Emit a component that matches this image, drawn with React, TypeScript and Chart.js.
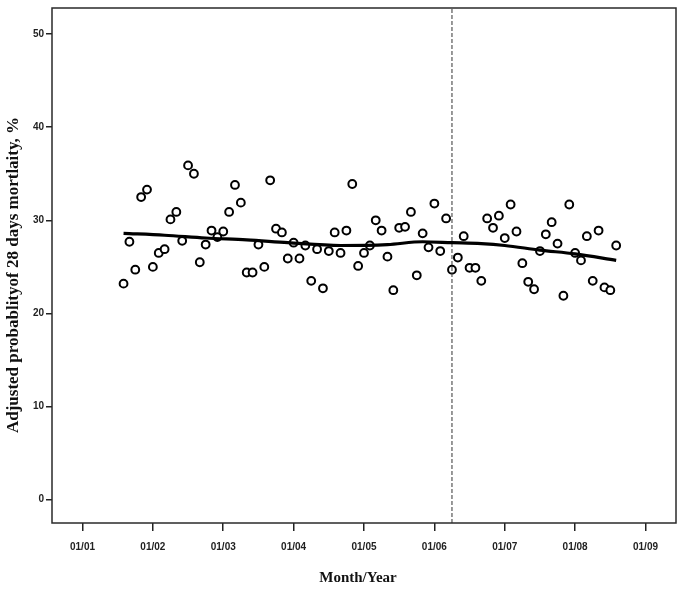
import React, { useEffect, useRef } from "react";
import { Chart, registerables } from "chart.js";

Chart.register(...registerables);

// Months counted from January 2001 (0 = 01/01)
const FIRST_MONTH = 7; // August 2001
const mortality = [
  23.2, 27.7, 24.7, 32.5, 33.3, 25.0, 26.5, 26.9, 30.1, 30.9,
  27.8, 35.9, 35.0, 25.5, 27.4, 28.9, 28.2, 28.8, 30.9, 33.8,
  31.9, 24.4, 24.4, 27.4, 25.0, 34.3, 29.1, 28.7, 25.9, 27.6,
  25.9, 27.3, 23.5, 26.9, 22.7, 26.7, 28.7, 26.5, 28.9, 33.9,
  25.1, 26.5, 27.3, 30.0, 28.9, 26.1, 22.5, 29.2, 29.3, 30.9,
  24.1, 28.6, 27.1, 31.8, 26.7, 30.2, 24.7, 26.0, 28.3, 24.9,
  24.9, 23.5, 30.2, 29.2, 30.5, 28.1, 31.7, 28.8, 25.4, 23.4,
  22.6, 26.7, 28.5, 29.8, 27.5, 21.9, 31.7, 26.5, 25.7, 28.3,
  23.5, 28.9, 22.8, 22.5, 27.3,
];
const smoothMonths = [7, 14, 21, 28, 35, 44, 52, 58, 63, 68, 72, 78, 84, 91];
const smoothValues = [28.6, 28.4, 28.1, 27.9, 27.6, 27.3, 27.4, 27.7, 27.6, 27.5, 27.3, 26.8, 26.4, 25.7];
const xTickMonths = [0, 12, 24, 36, 48, 60, 72, 84, 96];
const xTickLabels = ["01/01", "01/02", "01/03", "01/04", "01/05", "01/06", "01/07", "01/08", "01/09"];
const yTicks = [0, 10, 20, 30, 40, 50];
const interventionMonth = 63; // April 2006
const X_MIN = -5.2;
const X_MAX = 101.2;
const Y_MIN = -2.5;
const Y_MAX = 52.8;
const yTitle = "Adjusted probablityof 28 days mortlaity, %";
const xTitle = "Month/Year";

const framePlugin = {
  id: "frameAndTitles",
  afterDraw(chart: any) {
    const { ctx, chartArea } = chart;
    ctx.save();
    ctx.strokeStyle = "#2a2a2a";
    ctx.lineWidth = 1.5;
    ctx.strokeRect(chartArea.left, chartArea.top, chartArea.right - chartArea.left, chartArea.bottom - chartArea.top);
    ctx.fillStyle = "#111";
    ctx.font = "bold 15px 'Liberation Serif', serif";
    ctx.textAlign = "center";
    ctx.textBaseline = "middle";
    ctx.fillText(xTitle, (chartArea.left + chartArea.right) / 2 - 6, 578);
    ctx.font = "bold 17px 'Liberation Serif', serif";
    ctx.translate(14, 275);
    ctx.rotate(-Math.PI / 2);
    ctx.fillText(yTitle, 0, 0);
    ctx.restore();
  },
};

export default function App() {
  const ref = useRef<HTMLCanvasElement | null>(null);
  useEffect(() => {
    if (!ref.current) return;
    const points = mortality.map((v, i) => ({ x: FIRST_MONTH + i, y: v }));
    const smooth = smoothMonths.map((m, i) => ({ x: m, y: smoothValues[i] }));
    const chart = new Chart(ref.current, {
      type: "scatter",
      data: {
        datasets: [
          {
            data: smooth,
            showLine: true,
            borderColor: "#000",
            borderWidth: 3.2,
            pointRadius: 0,
            tension: 0.4,
            cubicInterpolationMode: "monotone",
          } as any,
          {
            data: [
              { x: interventionMonth, y: Y_MIN },
              { x: interventionMonth, y: Y_MAX },
            ],
            showLine: true,
            borderColor: "#333",
            borderWidth: 1,
            borderDash: [4, 2],
            pointRadius: 0,
          } as any,
          {
            data: points,
            pointRadius: 3.9,
            pointBorderWidth: 2,
            pointBorderColor: "#000",
            pointBackgroundColor: "#fff",
          } as any,
        ],
      },
      options: {
        animation: false,
        responsive: true,
        maintainAspectRatio: false,
        layout: { padding: { top: 6, right: 5, left: 0, bottom: 0 } },
        plugins: { legend: { display: false }, tooltip: { enabled: false } },
        scales: {
          x: {
            type: "linear",
            min: X_MIN,
            max: X_MAX,
            afterBuildTicks: (s: any) => {
              s.ticks = xTickMonths.map((v) => ({ value: v }));
            },
            afterFit: (s: any) => {
              s.height = 66;
            },
            grid: { drawOnChartArea: false, drawTicks: true, tickLength: 8, color: "#222", lineWidth: 1.5 },
            border: { display: false },
            ticks: {
              padding: 10,
              maxRotation: 0,
              autoSkip: false,
              color: "#222",
              font: { family: "'Liberation Sans', sans-serif", size: 10, weight: "bold" },
              callback: (v: any) => {
                const idx = xTickMonths.indexOf(Number(v));
                return idx >= 0 ? xTickLabels[idx] : "";
              },
            },
          },
          y: {
            type: "linear",
            min: Y_MIN,
            max: Y_MAX,
            afterBuildTicks: (s: any) => {
              s.ticks = yTicks.map((v) => ({ value: v }));
            },
            afterFit: (s: any) => {
              s.width = 52;
            },
            grid: { drawOnChartArea: false, drawTicks: true, tickLength: 6, color: "#222", lineWidth: 1.5 },
            border: { display: false },
            ticks: {
              padding: 2,
              color: "#222",
              font: { family: "'Liberation Sans', sans-serif", size: 10, weight: "bold" },
              callback: (v: any) => String(v),
            },
          },
        },
      },
      plugins: [framePlugin],
    } as any);
    return () => chart.destroy();
  }, []);
  return (
    <div style={{ position: "absolute", left: 0, top: 0, width: 682, height: 589, background: "#fff" }}>
      <canvas ref={ref} />
    </div>
  );
}
